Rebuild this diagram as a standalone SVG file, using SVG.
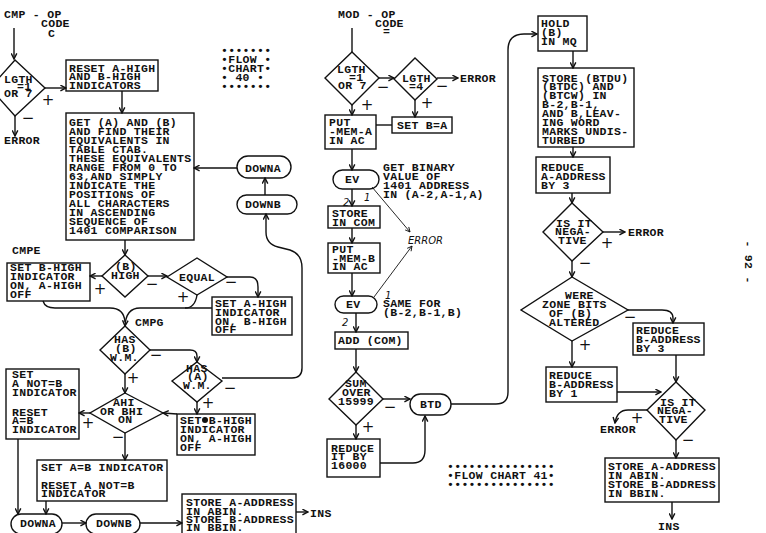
<svg xmlns="http://www.w3.org/2000/svg" width="766" height="533" viewBox="0 0 766 533">
  <style>
    text { font-family: "Liberation Mono", "DejaVu Sans Mono", monospace; font-size: 11.5px; letter-spacing: 0.3px; font-weight: bold; fill: #111; }
    .shape { fill: none; stroke: #111; stroke-width: 1.4; }
    .c path, .c line { fill: none; stroke: #111; stroke-width: 1.4; }
    .c .thin { stroke-width: 0.9; }
    .sg { font-family: "DejaVu Sans", sans-serif; font-size: 15px; letter-spacing: 0; font-weight: normal; text-anchor: middle; dominant-baseline: central; }
    .hand { font-family: "DejaVu Sans", sans-serif; font-style: italic; font-weight: normal; letter-spacing: 0; font-size: 10px; }
    .stars { letter-spacing: 0.5px; }
  </style>
  <defs>
    <marker id="ah" viewBox="0 0 10 10" refX="9" refY="5" markerWidth="7" markerHeight="7" orient="auto" markerUnits="userSpaceOnUse">
      <path d="M1,1 L9,5 L1,9" fill="none" stroke="#111" stroke-width="2"/>
    </marker>
    <marker id="ahs" viewBox="0 0 10 10" refX="9" refY="5" markerWidth="6" markerHeight="6" orient="auto" markerUnits="userSpaceOnUse">
      <path d="M1,1 L9,5 L1,9" fill="none" stroke="#111" stroke-width="1.6"/>
    </marker>
  </defs>
  <rect width="766" height="533" fill="#fff"/>

  <!-- headings and free labels -->
  <g id="labels">
    <text x="4" y="18">CMP - OP</text>
    <text x="41" y="27">CODE</text>
    <text x="48" y="37">C</text>
    <text x="4" y="144">ERROR</text>
    <text x="12" y="254">CMPE</text>
    <text x="135" y="326">CMPG</text>
    <text x="310" y="517">INS</text>
    <text x="338" y="18">MOD - OP</text>
    <text x="375" y="27">CODE</text>
    <text x="383" y="35">=</text>
    <text x="460" y="82">ERROR</text>
    <text x="383" y="171">GET BINARY</text>
    <text x="383" y="180">VALUE OF</text>
    <text x="383" y="189">1401 ADDRESS</text>
    <text x="383" y="198">IN (A-2,A-1,A)</text>
    <text x="383" y="307">SAME FOR</text>
    <text x="383" y="316">(B-2,B-1,B)</text>
    <text class="hand" x="408" y="244">ERROR</text>
    <text class="hand" x="343" y="206">2</text>
    <text class="hand" x="364" y="201">1</text>
    <text class="hand" x="385" y="299">1</text>
    <text class="hand" x="342" y="326">2</text>
    <text x="628" y="236">ERROR</text>
    <text x="600" y="433">ERROR</text>
    <text x="658" y="530">INS</text>
    <text transform="translate(748,262) rotate(90)" text-anchor="middle" dominant-baseline="central">- 92 -</text>
  </g>

  <!-- star banners -->
  <g id="banner40" class="stars">
    <text x="221" y="54">•••••••</text>
    <text x="221" y="63">•FLOW •</text>
    <text x="221" y="72">•CHART•</text>
    <text x="221" y="81">• 40  •</text>
    <text x="221" y="90">•••••••</text>
  </g>
  <g id="banner41" class="stars">
    <text x="447" y="470">•••••••••••••••</text>
    <text x="447" y="479">•FLOW CHART 41•</text>
    <text x="447" y="488">•••••••••••••••</text>
  </g>

  <!-- connectors -->
  <g id="connectors" class="c">
    <line x1="14" y1="28" x2="14" y2="59" marker-end="url(#ah)"/>
    <line x1="45" y1="88" x2="66" y2="88" marker-end="url(#ah)"/>
    <line x1="15" y1="116" x2="15" y2="136" marker-end="url(#ah)"/>
    <line x1="122" y1="91" x2="122" y2="113" marker-end="url(#ah)"/>
    <line x1="237" y1="168" x2="194" y2="168" marker-end="url(#ah)"/>
    <line x1="265" y1="195" x2="265" y2="178" marker-end="url(#ah)"/>
    <path d="M222,378 H292 Q302,378 302,368 V268 Q302,254 290,250 L278,247 Q266,244 266,232 V214" marker-end="url(#ah)"/>
    <line x1="125" y1="240" x2="125" y2="255" marker-end="url(#ah)"/>
    <line x1="102" y1="276" x2="90" y2="276" marker-end="url(#ah)"/>
    <line x1="148" y1="276" x2="167" y2="276" marker-end="url(#ah)"/>
    <path d="M227,277 H250 Q258,277 258,287 V297" marker-end="url(#ah)"/>
    <path d="M212,308 H140 Q126,308 125,326" marker-end="url(#ah)"/>
    <path d="M197,295 Q195,308 185,308"/>
    <path d="M43,301 Q45,308 55,308 H110 Q124,308 125,322"/>
    <path d="M150,350 H190 Q197,350 197,356 V362" marker-end="url(#ah)"/>
    <line x1="125" y1="374" x2="125" y2="393" marker-end="url(#ah)"/>
    <line x1="197" y1="402" x2="197" y2="414" marker-end="url(#ah)"/>
    <line x1="177" y1="414" x2="163" y2="413" marker-end="url(#ah)"/>
    <line x1="90" y1="413" x2="79" y2="413" marker-end="url(#ah)"/>
    <line x1="125" y1="433" x2="125" y2="460" marker-end="url(#ah)"/>
    <line x1="18" y1="439" x2="18" y2="514" marker-end="url(#ah)"/>
    <line x1="46" y1="501" x2="46" y2="514" marker-end="url(#ah)"/>
    <line x1="62" y1="523" x2="86" y2="523" marker-end="url(#ah)"/>
    <line x1="140" y1="523" x2="182" y2="523" marker-end="url(#ah)"/>
    <line x1="296" y1="512" x2="308" y2="512" marker-end="url(#ah)"/>

    <line x1="352" y1="28" x2="352" y2="52"/>
    <line x1="379" y1="78" x2="394" y2="78" marker-end="url(#ah)"/>
    <line x1="437" y1="78" x2="458" y2="78" marker-end="url(#ah)"/>
    <line x1="415" y1="100" x2="415" y2="117" marker-end="url(#ah)"/>
    <line x1="392" y1="125" x2="376" y2="125"/>
    <line x1="352" y1="105" x2="352" y2="115" marker-end="url(#ah)"/>
    <line x1="352" y1="149" x2="352" y2="170" marker-end="url(#ah)"/>
    <line x1="352" y1="189" x2="352" y2="206" marker-end="url(#ah)"/>
    <line class="thin" x1="372" y1="187" x2="410" y2="232" marker-end="url(#ahs)"/>
    <line x1="352" y1="228" x2="352" y2="243" marker-end="url(#ah)"/>
    <line x1="352" y1="273" x2="352" y2="296" marker-end="url(#ah)"/>
    <line class="thin" x1="374" y1="297" x2="412" y2="246" marker-end="url(#ahs)"/>
    <line x1="356" y1="313" x2="356" y2="332" marker-end="url(#ah)"/>
    <line x1="356" y1="349" x2="356" y2="372" marker-end="url(#ah)"/>
    <line x1="383" y1="399" x2="410" y2="399" marker-end="url(#ah)"/>
    <path d="M451,404 H496 Q508,404 508,392 V50 Q508,34 524,34 H537" marker-end="url(#ah)"/>
    <line x1="356" y1="425" x2="356" y2="439" marker-end="url(#ah)"/>
    <path d="M380,463 H413 Q425,463 425,450 V416" marker-end="url(#ah)"/>

    <line x1="573" y1="51" x2="573" y2="68" marker-end="url(#ah)"/>
    <line x1="573" y1="147" x2="573" y2="157" marker-end="url(#ah)"/>
    <line x1="572" y1="193" x2="572" y2="203" marker-end="url(#ah)"/>
    <line x1="603" y1="232" x2="625" y2="232" marker-end="url(#ah)"/>
    <line x1="572" y1="261" x2="572" y2="277" marker-end="url(#ah)"/>
    <path d="M628,310 H662 Q673,310 673,318 V323" marker-end="url(#ah)"/>
    <line x1="572" y1="341" x2="572" y2="367" marker-end="url(#ah)"/>
    <line x1="617" y1="392" x2="661" y2="392" marker-end="url(#ah)"/>
    <line x1="676" y1="355" x2="676" y2="382" marker-end="url(#ah)"/>
    <path d="M647,410 H628 Q617,410 615,423" marker-end="url(#ah)"/>
    <line x1="676" y1="440" x2="676" y2="458" marker-end="url(#ah)"/>
    <line x1="672" y1="502" x2="672" y2="519" marker-end="url(#ah)"/>
  </g>

  <!-- branch signs -->
  <g id="signs">
    <text class="sg" x="48" y="100">+</text>
    <text class="sg" x="28" y="118">−</text>
    <text class="sg" x="100" y="289">+</text>
    <text class="sg" x="152" y="284">−</text>
    <text class="sg" x="231" y="282">−</text>
    <text class="sg" x="183" y="297">+</text>
    <text class="sg" x="156" y="355">−</text>
    <text class="sg" x="133" y="378">+</text>
    <text class="sg" x="230" y="388">−</text>
    <text class="sg" x="208" y="403">+</text>
    <text class="sg" x="88" y="423">+</text>
    <text class="sg" x="118" y="437">−</text>
    <text class="sg" x="383" y="87">−</text>
    <text class="sg" x="367" y="105">+</text>
    <text class="sg" x="442" y="86">−</text>
    <text class="sg" x="427" y="103">+</text>
    <text class="sg" x="390" y="407">−</text>
    <text class="sg" x="368" y="427">+</text>
    <text class="sg" x="607" y="243">+</text>
    <text class="sg" x="585" y="263">−</text>
    <text class="sg" x="630" y="317">−</text>
    <text class="sg" x="585" y="345">+</text>
    <text class="sg" x="637" y="418">+</text>
    <text class="sg" x="688" y="440">−</text>
  </g>

  <!-- CMP column -->
  <g id="cmp-lgth">
    <polygon class="shape" points="15,60 45,88 15,116 -10,88"/>
    <text x="4" y="83">LGTH</text><text x="17" y="90">=1</text><text x="4" y="97">OR 7</text>
  </g>
  <g id="cmp-reset">
    <rect class="shape" x="66" y="60" width="92" height="31"/>
    <text x="69" y="72">RESET A-HIGH</text><text x="69" y="80">AND B-HIGH</text><text x="69" y="89">INDICATORS</text>
  </g>
  <g id="cmp-ctab">
    <rect class="shape" x="66" y="113" width="128" height="127"/>
    <text x="69" y="126">GET (A) AND (B)</text>
    <text x="69" y="135">AND FIND THEIR</text>
    <text x="69" y="144">EQUIVALENTS IN</text>
    <text x="69" y="153">TABLE CTAB.</text>
    <text x="69" y="162">THESE EQUIVALENTS</text>
    <text x="69" y="171">RANGE FROM 0 TO</text>
    <text x="69" y="180">63,AND SIMPLY</text>
    <text x="69" y="189">INDICATE THE</text>
    <text x="69" y="198">POSITIONS OF</text>
    <text x="69" y="207">ALL CHARACTERS</text>
    <text x="69" y="216">IN ASCENDING</text>
    <text x="69" y="225">SEQUENCE OF</text>
    <text x="69" y="234">1401 COMPARISON</text>
  </g>
  <g id="cmp-downa-top">
    <rect class="shape" x="237" y="156" width="54" height="22" rx="11"/>
    <text x="245" y="172">DOWNA</text>
  </g>
  <g id="cmp-downb-top">
    <rect class="shape" x="237" y="195" width="60" height="19" rx="9.5"/>
    <text x="245" y="208">DOWNB</text>
  </g>
  <g id="cmp-bhigh">
    <polygon class="shape" points="125,255 148,276 125,297 102,276"/>
    <text x="115" y="270">(B)</text><text x="111" y="279">HIGH</text>
  </g>
  <g id="cmp-set-bhigh">
    <rect class="shape" x="7" y="263" width="83" height="38"/>
    <text x="10" y="271">SET B-HIGH</text><text x="10" y="280">INDICATOR</text><text x="10" y="289">ON, A-HIGH</text><text x="10" y="298">OFF</text>
  </g>
  <g id="cmp-equal">
    <polygon class="shape" points="167,277 197,258 227,277 197,295"/>
    <text x="179" y="281">EQUAL</text>
  </g>
  <g id="cmp-set-ahigh">
    <rect class="shape" x="212" y="297" width="80" height="38"/>
    <text x="215" y="307">SET A-HIGH</text><text x="215" y="316">INDICATOR</text><text x="215" y="325">ON, B-HIGH</text><text x="215" y="333">OFF</text>
  </g>
  <g id="cmp-hasb">
    <polygon class="shape" points="125,326 150,350 125,374 100,350"/>
    <text x="114" y="343">HAS</text><text x="115" y="352">(B)</text><text x="110" y="361">W.M.</text>
  </g>
  <g id="cmp-hasa">
    <polygon class="shape" points="197,362 222,381 197,402 172,381"/>
    <text x="186" y="372">HAS</text><text x="187" y="380">(A)</text><text x="183" y="389">W.M.</text>
  </g>
  <g id="cmp-set-bhigh2">
    <rect class="shape" x="177" y="414" width="78" height="41"/>
    <text x="180" y="424">SET B-HIGH</text><text x="180" y="433">INDICATOR</text><text x="180" y="442">ON, A-HIGH</text><text x="180" y="451">OFF</text>
    <circle cx="205" cy="420" r="3" fill="#111"/>
  </g>
  <g id="cmp-ahi">
    <polygon class="shape" points="125,393 163,413 125,433 90,413"/>
    <text x="113" y="406">AHI</text><text x="100" y="415">OR BHI</text><text x="118" y="423">ON</text>
  </g>
  <g id="cmp-set-not">
    <rect class="shape" x="6" y="369" width="73" height="70"/>
    <text x="12" y="378">SET</text><text x="12" y="387">A NOT=B</text><text x="12" y="396">INDICATOR</text>
    <text x="12" y="416">RESET</text><text x="12" y="424">A=B</text><text x="12" y="433">INDICATOR</text>
  </g>
  <g id="cmp-set-eq">
    <rect class="shape" x="37" y="460" width="130" height="41"/>
    <text x="41" y="471">SET A=B INDICATOR</text><text x="41" y="489">RESET A NOT=B</text><text x="41" y="497">INDICATOR</text>
  </g>
  <g id="cmp-downa">
    <rect class="shape" x="11" y="514" width="51" height="20" rx="10"/>
    <text x="20" y="527">DOWNA</text>
  </g>
  <g id="cmp-downb">
    <rect class="shape" x="86" y="514" width="54" height="20" rx="10"/>
    <text x="96" y="527">DOWNB</text>
  </g>
  <g id="cmp-store">
    <rect class="shape" x="182" y="494" width="114" height="44"/>
    <text x="186" y="506">STORE A-ADDRESS</text><text x="186" y="515">IN ABIN.</text><text x="186" y="523">STORE B-ADDRESS</text><text x="186" y="531">IN BBIN.</text>
  </g>

  <!-- MOD column -->
  <g id="mod-lgth">
    <polygon class="shape" points="352,52 379,78 352,105 325,78"/>
    <text x="337" y="73">LGTH</text><text x="349" y="81">=1</text><text x="338" y="89">OR 7</text>
  </g>
  <g id="mod-lgth4">
    <polygon class="shape" points="415,58 437,79 415,100 394,79"/>
    <text x="402" y="82">LGTH</text><text x="409" y="90">=4</text>
  </g>
  <g id="mod-setba">
    <rect class="shape" x="392" y="117" width="60" height="16"/>
    <text x="397" y="129">SET B=A</text>
  </g>
  <g id="mod-puta">
    <rect class="shape" x="325" y="115" width="51" height="34"/>
    <text x="329" y="126">PUT</text><text x="329" y="135">-MEM-A</text><text x="329" y="144">IN AC</text>
  </g>
  <g id="mod-ev1">
    <rect class="shape" x="333" y="170" width="46" height="19" rx="9.5"/>
    <text x="345" y="183">EV</text>
  </g>
  <g id="mod-storecom">
    <rect class="shape" x="328" y="206" width="52" height="22"/>
    <text x="332" y="217">STORE</text><text x="332" y="226">IN COM</text>
  </g>
  <g id="mod-putb">
    <rect class="shape" x="328" y="243" width="52" height="30"/>
    <text x="332" y="253">PUT</text><text x="332" y="262">-MEM-B</text><text x="332" y="270">IN AC</text>
  </g>
  <g id="mod-ev2">
    <rect class="shape" x="335" y="296" width="42" height="17" rx="8.5"/>
    <text x="346" y="308">EV</text>
  </g>
  <g id="mod-add">
    <rect class="shape" x="335" y="332" width="73" height="17"/>
    <text x="338" y="344">ADD (COM)</text>
  </g>
  <g id="mod-sum">
    <polygon class="shape" points="356,372 383,399 356,425 329,399"/>
    <text x="345" y="387">SUM</text><text x="342" y="396">OVER</text><text x="338" y="405">15999</text>
  </g>
  <g id="mod-btd">
    <rect class="shape" x="410" y="394" width="41" height="21" rx="10.5"/>
    <text x="420" y="408">BTD</text>
  </g>
  <g id="mod-reduce">
    <rect class="shape" x="327" y="439" width="53" height="38"/>
    <text x="331" y="452">REDUCE</text><text x="331" y="460">IT BY</text><text x="331" y="469">16000</text>
  </g>

  <!-- BTD column -->
  <g id="btd-hold">
    <rect class="shape" x="538" y="16" width="49" height="35"/>
    <text x="541" y="27">HOLD</text><text x="541" y="36">(B)</text><text x="541" y="45">IN MQ</text>
  </g>
  <g id="btd-store">
    <rect class="shape" x="538" y="68" width="96" height="79"/>
    <text x="542" y="82">STORE (BTDU)</text>
    <text x="542" y="90">(BTDC) AND</text>
    <text x="542" y="99">(BTCW) IN</text>
    <text x="542" y="108">B-2,B-1,</text>
    <text x="542" y="117">AND B,LEAV-</text>
    <text x="542" y="126">ING WORD</text>
    <text x="542" y="135">MARKS UNDIS-</text>
    <text x="542" y="144">TURBED</text>
  </g>
  <g id="btd-reduce-a">
    <rect class="shape" x="536" y="157" width="74" height="36"/>
    <text x="541" y="171">REDUCE</text><text x="541" y="180">A-ADDRESS</text><text x="541" y="189">BY 3</text>
  </g>
  <g id="btd-neg1">
    <polygon class="shape" points="572,203 603,232 572,261 543,232"/>
    <text x="556" y="227">IS IT</text><text x="555" y="235">NEGA-</text><text x="558" y="244">TIVE</text>
  </g>
  <g id="btd-zone">
    <polygon class="shape" points="572,277 628,310 572,341 521,310"/>
    <text x="565" y="299">WERE</text><text x="542" y="308">ZONE BITS</text><text x="549" y="317">OF (B)</text><text x="549" y="326">ALTERED</text>
  </g>
  <g id="btd-reduce-b3">
    <rect class="shape" x="633" y="323" width="71" height="32"/>
    <text x="636" y="334">REDUCE</text><text x="636" y="343">B-ADDRESS</text><text x="636" y="352">BY 3</text>
  </g>
  <g id="btd-reduce-b1">
    <rect class="shape" x="546" y="367" width="71" height="35"/>
    <text x="549" y="379">REDUCE</text><text x="549" y="388">B-ADDRESS</text><text x="549" y="397">BY 1</text>
  </g>
  <g id="btd-neg2">
    <polygon class="shape" points="676,382 705,410 676,440 647,410"/>
    <text x="660" y="406">IS IT</text><text x="657" y="414">NEGA-</text><text x="659" y="423">TIVE</text>
  </g>
  <g id="btd-store2">
    <rect class="shape" x="605" y="458" width="114" height="44"/>
    <text x="608" y="470">STORE A-ADDRESS</text><text x="608" y="479">IN ABIN.</text><text x="608" y="488">STORE B-ADDRESS</text><text x="608" y="497">IN BBIN.</text>
  </g>
</svg>
